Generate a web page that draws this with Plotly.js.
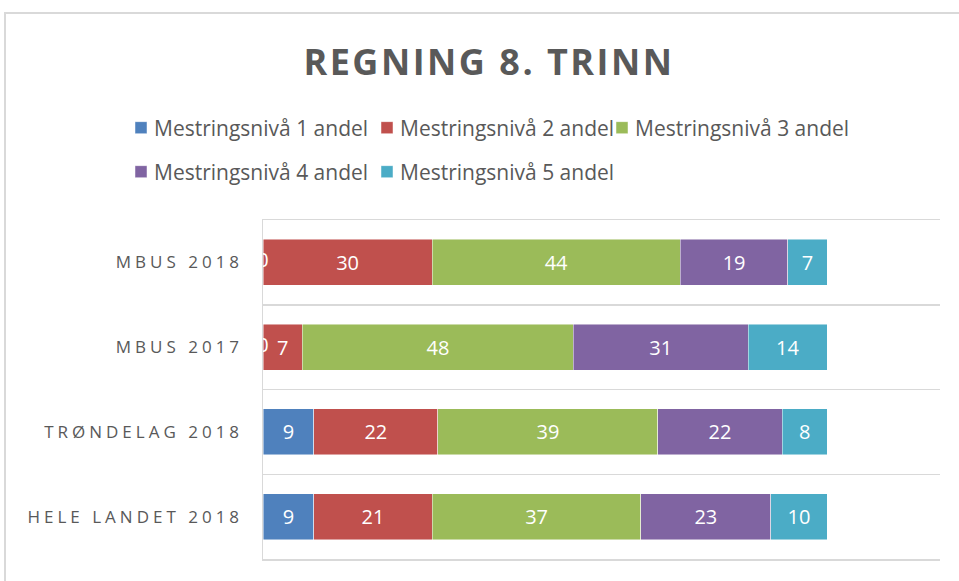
<!DOCTYPE html>
<html>
<head>
<meta charset="utf-8">
<script src="https://cdn.plot.ly/plotly-3.0.1.min.js"></script>
<style>
  html, body { margin: 0; padding: 0; background: #fff; }
  #wrap { position: relative; width: 959px; height: 581px; overflow: hidden; }
  #frame { position: absolute; left: 4px; top: 12px; width: 1000px; height: 700px;
           border-left: 2px solid #d9d9d9; border-top: 2px solid #d9d9d9; pointer-events: none; }
  .gtitle { letter-spacing: 2.5px; }
  .ytick text { letter-spacing: 4px; }
</style>
</head>
<body>
<div id="wrap">
  <div id="chart" style="width:959px;height:581px;"></div>
  <div id="frame"></div>
</div>
<script>
const categories = ["MBUS 2018", "MBUS 2017", "TRØNDELAG 2018", "HELE LANDET 2018"];
const seriesNames = ["Mestringsnivå 1 andel", "Mestringsnivå 2 andel", "Mestringsnivå 3 andel",
                     "Mestringsnivå 4 andel", "Mestringsnivå 5 andel"];
const niva1 = [0, 0, 9, 9];
const niva2 = [30, 7, 22, 21];
const niva3 = [44, 48, 39, 37];
const niva4 = [19, 31, 22, 23];
const niva5 = [7, 14, 8, 10];
const colors = ["#4F81BD", "#C0504D", "#9BBB59", "#8064A2", "#4BACC6"];

const series = [niva1, niva2, niva3, niva4, niva5];
const FAM = "'Open Sans', 'Noto Sans', sans-serif";
const labelFont = { family: FAM, size: 20, color: "#ffffff" };
const legendIds = ["legend", "legend2", "legend3", "legend4", "legend5"];

const traces = series.map((vals, i) => ({
  type: "bar",
  orientation: "h",
  name: seriesNames[i],
  y: categories,
  x: vals,
  text: vals.map(v => v === 0 ? "" : String(v)),
  textposition: "inside",
  insidetextanchor: "middle",
  constraintext: "none",
  textfont: labelFont,
  marker: { color: colors[i], line: { color: "rgba(255,255,255,0.6)", width: 0.8 } },
  legend: legendIds[i],
  hoverinfo: "x+name"
}));

// zero-value labels (drawn at the segment centre, clipped by the plot area like the original)
const zx = [], zy = [];
series.forEach((vals, i) => {
  vals.forEach((v, j) => {
    if (v === 0) {
      let start = 0;
      for (let k = 0; k < i; k++) start += series[k][j];
      zx.push(start + v / 2);
      zy.push(categories[j]);
    }
  });
});
traces.push({
  type: "scatter", mode: "text", x: zx, y: zy, text: zx.map(() => "0"),
  textfont: labelFont, textposition: "middle center", showlegend: false,
  cliponaxis: true, hoverinfo: "skip"
});

const plotTop = 220, plotBottom = 559, plotLeft = 263, plotRight = 940;
const ph = plotBottom - plotTop, pw = plotRight - plotLeft;
const legFont = { family: FAM, size: 21, color: "#595959" };

// legend entry positions (container px: left of entry, centre y)
const legPos = [[121, 128], [367, 128], [602, 128], [121, 172], [367, 172]];

const layout = {
  width: 959, height: 581,
  margin: { l: plotLeft, r: 959 - plotRight, t: plotTop, b: 581 - plotBottom },
  paper_bgcolor: "#ffffff", plot_bgcolor: "#ffffff",
  barmode: "stack",
  bargap: 0.46,
  font: { family: FAM, color: "#595959" },
  title: {
    text: "<b>REGNING 8. TRINN</b>",
    font: { family: FAM, size: 36, color: "#595959" },
    xref: "container", yref: "container", x: 489 / 959, y: 1 - 62 / 581,
    xanchor: "center", yanchor: "middle"
  },
  showlegend: true,
  xaxis: {
    range: [0, 120], showticklabels: false, showgrid: false, zeroline: false,
    showline: true, mirror: true, linecolor: "#d9d9d9", linewidth: 1.5,
    ticks: "", fixedrange: true
  },
  yaxis: {
    type: "category", autorange: "reversed",
    tickson: "boundaries", ticks: "", showgrid: true, gridcolor: "#d9d9d9", gridwidth: 1.5,
    showline: true, linecolor: "#d9d9d9", linewidth: 1.5,
    tickfont: { family: FAM, size: 17, color: "#595959" },
    ticklabelstandoff: 15, fixedrange: true
  }
};
legendIds.forEach((id, i) => {
  layout[id] = {
    orientation: "h", traceorder: "normal",
    x: (legPos[i][0] - plotLeft) / pw, y: (plotBottom - legPos[i][1]) / ph,
    xanchor: "left", yanchor: "middle",
    font: legFont, itemwidth: 30, bgcolor: "rgba(0,0,0,0)"
  };
});

const gd = document.getElementById("chart");
// tighten the gap between legend swatch and text, as in the original (idempotent)
function tightenLegend() {
  gd.querySelectorAll("text[class^='legend'][class$='text']").forEach(t => {
    if (t.getAttribute("x") !== "33") t.setAttribute("x", "33");
  });
}
Plotly.newPlot(gd, traces, layout, { displayModeBar: false, staticPlot: true }).then(() => {
  tightenLegend();
  gd.on("plotly_afterplot", tightenLegend);
  setTimeout(tightenLegend, 0);
  setTimeout(tightenLegend, 50);
});
</script>
</body>
</html>
